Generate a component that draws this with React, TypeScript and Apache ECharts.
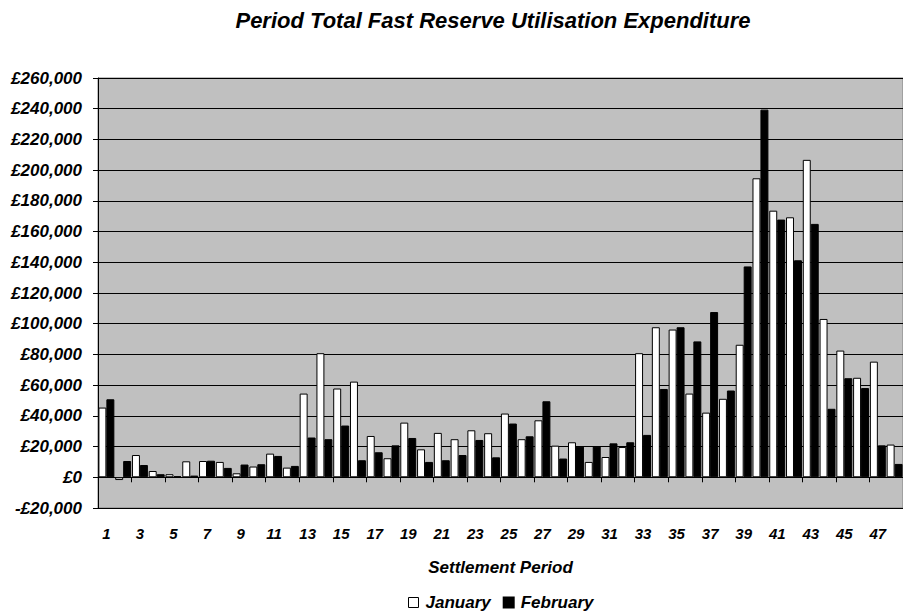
import React, { useEffect, useRef } from "react";
import * as echarts from "echarts";

const periods: string[] = Array.from({ length: 48 }, (_, i) => String(i + 1));

const january: number[] = [
  45400, -1800, 14500, 4100, 2000, 10400, 10600, 10000, 2600, 7000,
  15400, 6300, 54500, 80800, 57800, 62300, 26900, 12400, 35600, 18200,
  28900, 24800, 30600, 28700, 41500, 24800, 37100, 20600, 22800, 10000,
  13200, 19700, 80800, 97700, 96200, 54500, 42100, 51100, 86300, 194700,
  173600, 169300, 206700, 103100, 82500, 64800, 75300, 21300,
];

const february: number[] = [
  50800, 10600, 8000, 2000, 700, 1100, 10800, 6100, 8300, 8500,
  13900, 7400, 25900, 24800, 33700, 11100, 16300, 20800, 25600, 10000,
  11100, 14500, 24300, 13000, 35000, 26700, 49500, 12200, 20000, 20000,
  22100, 22800, 27600, 57500, 97700, 88500, 107600, 56500, 137300, 239400,
  167800, 141300, 165000, 44600, 64500, 58100, 20800, 8700,
];

const titleText = "Period Total Fast Reserve Utilisation Expenditure";
const xAxisName = "Settlement Period";
const seriesNames = ["January", "February"];

const FONT = "'Liberation Sans', Arial, sans-serif";

function fmtMoney(v: number): string {
  const abs = Math.abs(v).toLocaleString("en-GB");
  return (v < 0 ? "-£" : "£") + abs;
}

export default function App() {
  const ref = useRef<HTMLDivElement>(null);

  useEffect(() => {
    if (!ref.current) return;
    const chart = echarts.init(ref.current, undefined, { renderer: "svg" });
    const textBase = {
      fontFamily: FONT,
      fontWeight: "bold" as const,
      fontStyle: "italic" as const,
      color: "#000",
    };
    chart.setOption({
      animation: false,
      backgroundColor: "#fff",
      title: {
        text: titleText,
        left: 488,
        top: 4,
        textAlign: "center",
        textStyle: { ...textBase, fontSize: 22 },
      },
      legend: {
        data: [
          { name: seriesNames[0], itemStyle: { color: "#fff", borderColor: "#000", borderWidth: 1 } },
          { name: seriesNames[1], itemStyle: { color: "#000" } },
        ],
        top: 589,
        left: 403,
        icon: "rect",
        itemWidth: 10,
        itemHeight: 10,
        itemGap: 12,
        textStyle: { ...textBase, fontSize: 17, padding: [0, 0, 0, 2] },
      },
      grid: {
        left: 98,
        right: 0,
        top: 78,
        bottom: 105,
        show: true,
        backgroundColor: "#c0c0c0",
        borderColor: "#808080",
        borderWidth: 1,
        containLabel: false,
      },
      xAxis: [
        {
          type: "category",
          data: periods,
          boundaryGap: true,
          position: "bottom",
          axisLine: { show: true, onZero: true, lineStyle: { color: "#000", width: 1 } },
          axisTick: { show: true, length: 5, inside: false, lineStyle: { color: "#000" } },
          axisLabel: { show: false },
          splitLine: { show: false },
        },
        {
          type: "category",
          data: periods,
          boundaryGap: true,
          position: "bottom",
          axisLine: { show: false, onZero: false },
          axisTick: { show: false },
          axisLabel: {
            show: true,
            interval: 1,
            margin: 18,
            ...textBase,
            fontSize: 15,
          },
          name: xAxisName,
          nameLocation: "middle",
          nameGap: 51,
          nameTextStyle: { ...textBase, fontSize: 17 },
          splitLine: { show: false },
        },
      ],
      yAxis: {
        type: "value",
        min: -20000,
        max: 260000,
        interval: 20000,
        axisLine: { show: true, lineStyle: { color: "#000" } },
        axisTick: { show: true, length: 5, lineStyle: { color: "#000" } },
        axisLabel: {
          formatter: (v: number) => fmtMoney(v),
          margin: 16,
          ...textBase,
          fontSize: 17,
        },
        splitLine: { show: true, lineStyle: { color: "#000", width: 1 } },
      },
      series: [
        {
          name: seriesNames[0],
          type: "bar",
          xAxisIndex: 0,
          data: january,
          barGap: "0%",
          barCategoryGap: "5%",
          itemStyle: { color: "#fff", borderColor: "#000", borderWidth: 1 },
        },
        {
          name: seriesNames[1],
          type: "bar",
          xAxisIndex: 0,
          data: february,
          barGap: "0%",
          barCategoryGap: "5%",
          itemStyle: { color: "#000", borderColor: "#000", borderWidth: 1 },
        },
      ],
    });
    return () => chart.dispose();
  }, []);

  return (
    <div
      ref={ref}
      style={{ position: "absolute", left: 0, top: 0, width: 903, height: 613 }}
    />
  );
}
